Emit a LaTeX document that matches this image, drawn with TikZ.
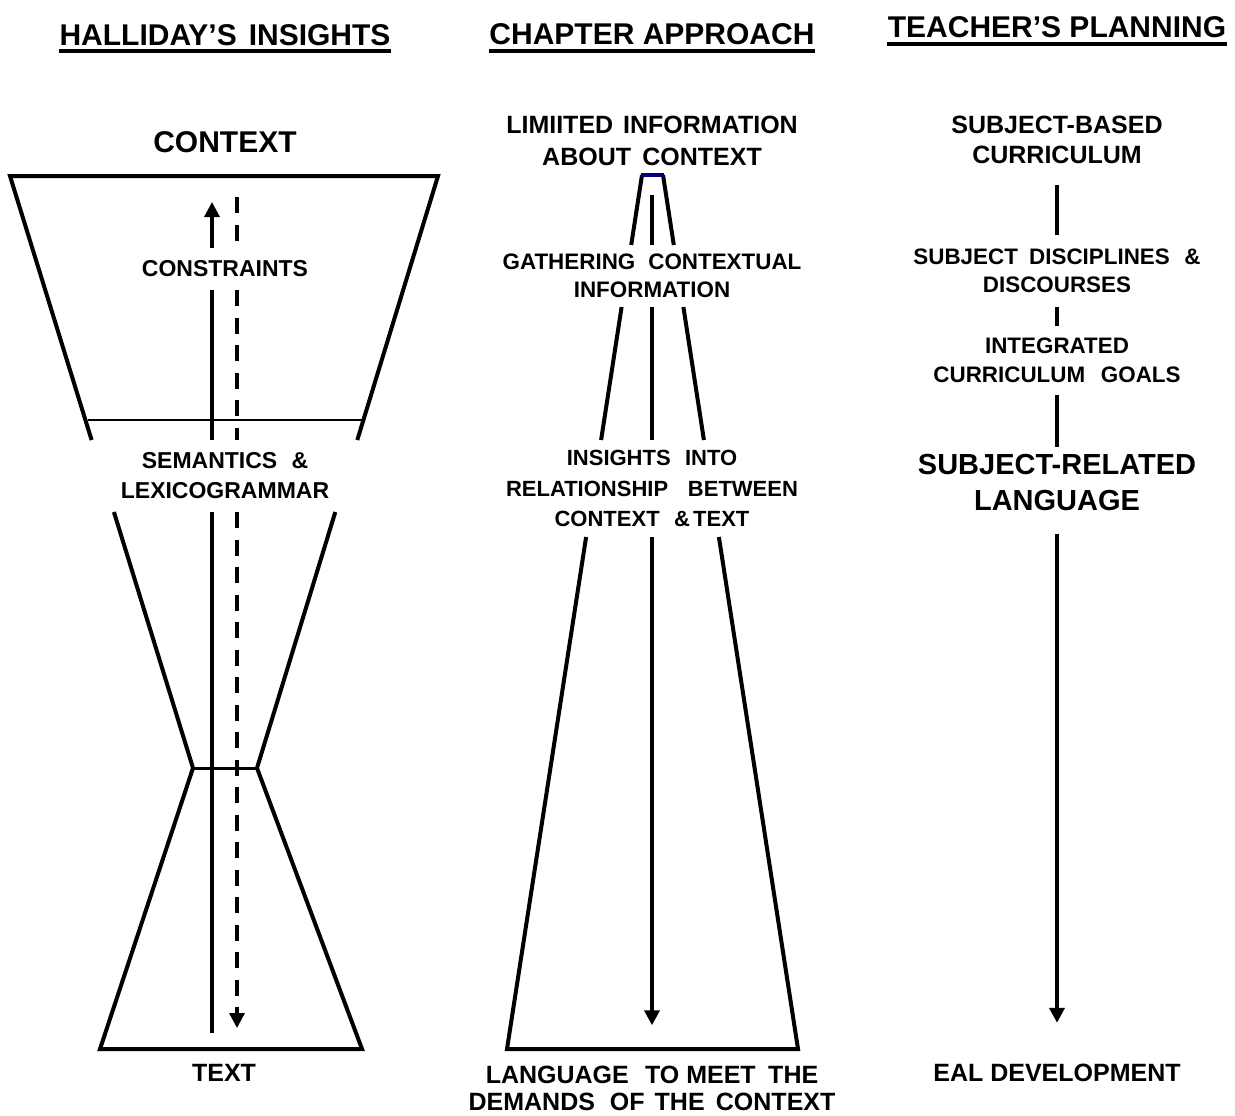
\documentclass[tikz,border=0pt]{standalone}
\usepackage{fontspec}
\setmainfont{Liberation Sans}
\usetikzlibrary{arrows.meta,calc}
\definecolor{navybar}{RGB}{0,0,128}
\newcommand{\gp}[1]{\hspace{#1em}}
\begin{document}
\begin{tikzpicture}[x=0.5pt,y=-0.5pt,
  lbl/.style={inner sep=0pt, align=center, text=black},
  fhead/.style={font=\bfseries\fontsize{15}{18}\selectfont},
  fbig/.style={font=\bfseries\fontsize{14.5}{18}\selectfont},
  fmid/.style={font=\bfseries\fontsize{12.5}{15}\selectfont},
  fsmall/.style={font=\bfseries\fontsize{11.2}{14}\selectfont},
  shapeline/.style={line width=2pt, line join=miter},
  conn/.style={line width=2pt},
  vline/.style={line width=1.6pt},
  dashpat/.style={dash pattern=on 8pt off 5.75pt},
  arr/.style={-{Triangle[length=7.5pt,width=7.5pt]}},
  uline/.style={line width=1.75pt}
]
\fill[white] (0,0) rectangle (1235,1115);
\useasboundingbox (0,0) rectangle (1235,1115);

% ---------- headings ----------
\node[lbl, fhead] (h1) at (225,35.5) {HALLIDAY’S\gp{0.4}INSIGHTS};
\node[lbl, fhead] (h2) at (652,34) {CHAPTER APPROACH};
\node[lbl, fhead] (h3) at (1057,27.5) {TEACHER’S PLANNING};
\draw[uline] ([yshift=-2.7pt]h1.base west) -- ([yshift=-2.7pt]h1.base east);
\draw[uline] ([yshift=-3.4pt]h2.base west) -- ([yshift=-3.4pt]h2.base east);
\draw[uline] ([yshift=-3.2pt]h3.base west) -- ([yshift=-3.2pt]h3.base east);

% ---------- left: Halliday's insights ----------
\node[lbl, fhead] (ctx) at (225,142) {CONTEXT};
\node[lbl, font=\bfseries\fontsize{11.5}{15}\selectfont, minimum height=21pt] (con) at (225,269) {CONSTRAINTS};
\node[lbl, font=\bfseries\fontsize{11.5}{15}\selectfont, minimum height=36pt] (sem) at (225,476) {SEMANTICS\gp{0.62}\&\\LEXICOGRAMMAR};
\node[lbl, fmid] (txt) at (224,1073) {TEXT};

% hourglass outline
\draw[shapeline] (91.6,440) -- (10,176) -- (438,176) -- (357.3,440);
\draw[shapeline] (113.9,512) -- (193,768) -- (100,1049) -- (362,1049) -- (257,768) -- (335.3,512);
\draw[line width=1.5pt] (193,768) -- (257,768);
\draw[line width=1pt] (88,420) -- (365,420);

% arrows
\coordinate (sx) at (212,0);
\coordinate (dx) at (237,0);
\coordinate (sbot) at (212,1033);
\coordinate (stip) at (212,202);
\coordinate (dtop) at (237,197);
\coordinate (dtip) at (237,1028);
\draw[vline, arr] (sbot) -- (sx |- sem.south) (sx |- sem.north) -- (sx |- con.south) (sx |- con.north) -- (stip);
\draw[vline, dashpat] (dtop) -- (dx |- con.north);
\draw[vline, dashpat] (dx |- con.south) -- (dx |- sem.north);
\draw[vline, dashpat, arr] (dx |- sem.south) -- (dtip);

% ---------- middle: chapter approach ----------
\node[lbl, font=\bfseries\fontsize{12.5}{16}\selectfont, minimum height=54pt] (lim) at (652,141) {LIMIITED\gp{0.4}INFORMATION\\ABOUT\gp{0.45}CONTEXT};
\node[lbl, fsmall, minimum height=31pt] (gat) at (652,276) {GATHERING\gp{0.58}CONTEXTUAL\\INFORMATION};
\node[lbl, font=\bfseries\fontsize{11}{15.25}\selectfont, minimum height=48.5pt] (ins) at (652,488.5) {INSIGHTS\gp{0.65}INTO\\RELATIONSHIP\gp{0.9}BETWEEN\\CONTEXT\gp{0.65}\&\gp{0.15}TEXT};
\node[lbl, font=\bfseries\fontsize{12.5}{13.5}\selectfont] (lang) at (652,1088) {LANGUAGE\gp{0.65}TO MEET\gp{0.5}THE\\DEMANDS\gp{0.6}OF\gp{0.4}THE\gp{0.45}CONTEXT};

% cone
\draw[shapeline] (642,175) -- (631.2,245);
\draw[shapeline] (663,175) -- (673.8,245);
\draw[shapeline] (621.6,307) -- (601.1,440);
\draw[shapeline] (683.4,307) -- (703.9,440);
\draw[shapeline] (586.1,537) -- (507,1049) -- (798,1049) -- (718.9,537);
\draw[line width=2pt, navybar] (641,175) -- (664,175);

\draw[conn] (lim) -- (gat);
\draw[conn] (gat) -- (ins);
\draw[conn, arr, shorten >=20pt] (ins) -- (lang);

% ---------- right: teacher's planning ----------
\node[lbl, fmid, minimum height=45pt] (sbc) at (1057,140) {SUBJECT-BASED\\CURRICULUM};
\node[lbl, fsmall, minimum height=36pt] (sdd) at (1057,271) {SUBJECT\gp{0.5}DISCIPLINES\gp{0.65}\&\\DISCOURSES};
\node[lbl, font=\bfseries\fontsize{11.2}{14.5}\selectfont, minimum height=34.5pt] (igc) at (1057,360.5) {INTEGRATED\\CURRICULUM\gp{0.7}GOALS};
\node[lbl, fbig, minimum height=35pt] (srl) at (1057,482.5) {SUBJECT-RELATED\\LANGUAGE};
\node[lbl, fmid] (eal) at (1057,1073) {EAL DEVELOPMENT};

\draw[conn] (sbc) -- (sdd);
\draw[conn] (sdd) -- (igc);
\draw[conn] (igc) -- (srl);
\draw[conn, arr, shorten <=8pt, shorten >=20.5pt] (srl) -- (eal);
\end{tikzpicture}
\end{document}
